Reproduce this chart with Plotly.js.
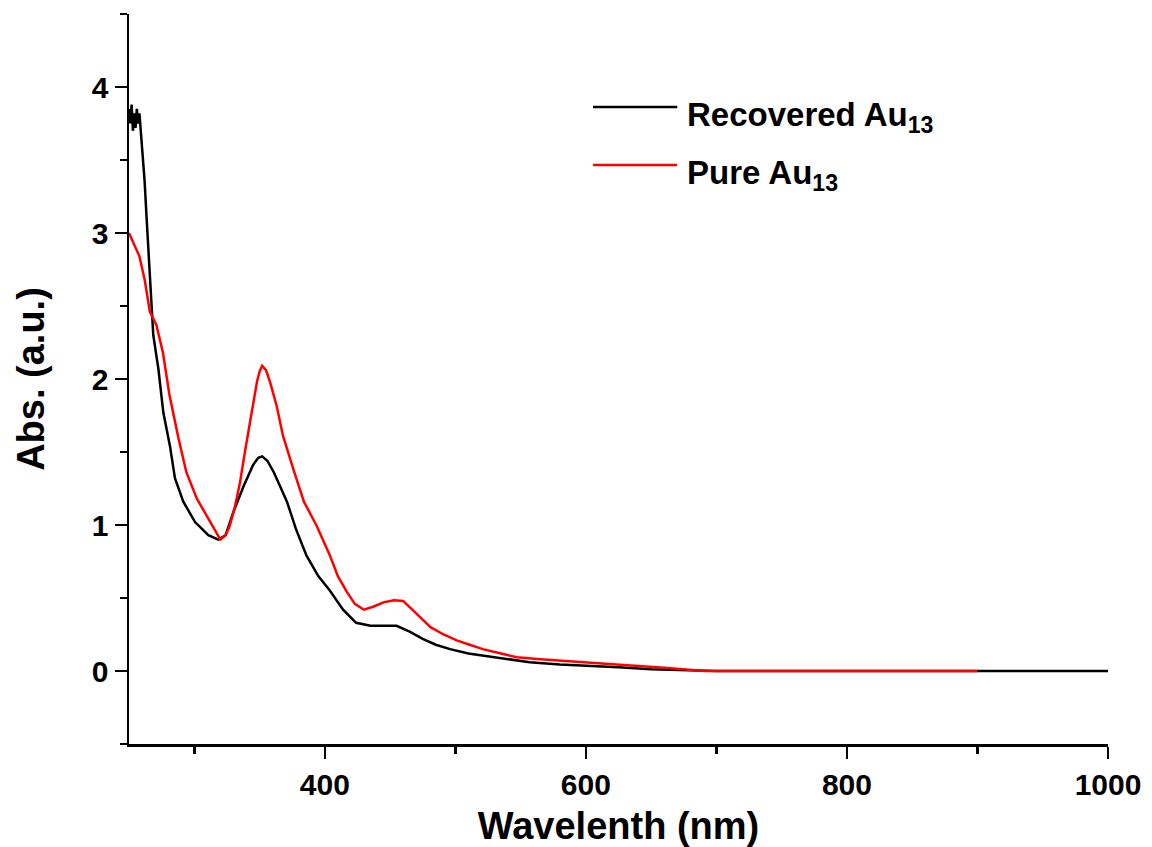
<!DOCTYPE html>
<html>
<head>
<meta charset="utf-8">
<script src="https://cdn.plot.ly/plotly-3.0.1.min.js"></script>
<style>html,body{margin:0;padding:0;background:#fff;}#chart{width:1152px;height:847px;}</style>
</head>
<body>
<div id="chart"></div>
<script>
// Recovered Au13 (black)
const wlRecovered = [250,251,252,253,254,255,256,257,258,259,260,262,263.5,265,267,268.6,272.5,276.3,281.4,285.2,291.6,300.6,310.8,318.4,324,330,338,345,349,352,356,361,366,371,378,386,395,404,414,424,435,445,455,465,475,485,496,510,522,540,557,580,603,625,650,670,690,700,800,900,1000];
const absRecovered = [3.85,3.75,3.88,3.70,3.82,3.72,3.85,3.75,3.82,3.70,3.60,3.35,3.10,2.87,2.53,2.30,2.07,1.77,1.54,1.32,1.16,1.02,0.93,0.90,0.93,1.09,1.27,1.41,1.46,1.47,1.44,1.36,1.26,1.16,0.97,0.79,0.65,0.55,0.42,0.33,0.31,0.31,0.31,0.27,0.22,0.18,0.15,0.12,0.105,0.08,0.06,0.045,0.036,0.025,0.012,0.006,0.002,0,0,0,0];

// Pure Au13 (red)
const wlPure = [250,254.6,258,262,266,271,276,281,288,294,302,311,316,320,324,327,331,335,339,343,348,350,352,355,358,363,368,376,384,394,404,410,417,423,430,437,445,453,460,467,474,481,491,501,511,521,535,547,565,583,600,620,640,660,680,691,800,900];
const absPure = [3.00,2.91,2.84,2.68,2.46,2.37,2.18,1.89,1.59,1.36,1.18,1.04,0.96,0.90,0.93,0.99,1.12,1.29,1.51,1.73,1.98,2.05,2.09,2.06,1.98,1.82,1.61,1.38,1.16,0.99,0.79,0.65,0.54,0.46,0.42,0.44,0.47,0.485,0.48,0.42,0.36,0.30,0.25,0.21,0.18,0.15,0.12,0.094,0.08,0.068,0.058,0.045,0.035,0.022,0.010,0,0,0];

const seriesNames = ["Recovered Au<sub>13</sub>", "Pure Au<sub>13</sub>"];
const seriesColors = ['#000000', '#ff0000'];
const xTickVals = [400, 600, 800, 1000];
const yTickVals = [0, 1, 2, 3, 4];

const FONT = "Arial, 'Liberation Sans', sans-serif";

const traces = [
  {x: wlRecovered, y: absRecovered, type: 'scatter', mode: 'lines', name: seriesNames[0],
   line: {color: seriesColors[0], width: 2.5}},
  {x: wlPure, y: absPure, type: 'scatter', mode: 'lines', name: seriesNames[1],
   line: {color: seriesColors[1], width: 2.5}}
];

const axisCommon = {
  showgrid: false, zeroline: false, showline: true, linecolor: '#000', linewidth: 2.5,
  ticks: 'outside', ticklen: 12, tickwidth: 2.5, tickcolor: '#000',
  tickfont: {family: FONT, size: 30, color: '#000', weight: 'bold'},
  mirror: false
};

// Legend drawn in paper coordinates (long line samples as in the reference)
const legendRowsY = [0.8725, 0.793];   // paper y of each legend row
const legendLineX = [0.474, 0.560];
const legendTextX = 0.568;
const shapes = [];
const annotations = [];
seriesNames.forEach((nm, i) => {
  shapes.push({type: 'line', xref: 'paper', yref: 'paper',
    x0: legendLineX[0], x1: legendLineX[1], y0: legendRowsY[i], y1: legendRowsY[i],
    line: {color: seriesColors[i], width: 2.5}});
  annotations.push({xref: 'paper', yref: 'paper', x: legendTextX, y: legendRowsY[i] - 0.013,
    xanchor: 'left', yanchor: 'middle', showarrow: false, text: nm,
    font: {family: FONT, size: 33, color: '#000', weight: 'bold'}});
});

const layout = {
  width: 1152, height: 847,
  paper_bgcolor: '#fff', plot_bgcolor: '#fff',
  margin: {l: 129, r: 44, t: 14, b: 103},
  showlegend: false,
  shapes: shapes,
  annotations: annotations,
  xaxis: Object.assign({}, axisCommon, {
    range: [250, 1000], tickvals: xTickVals, ticktext: xTickVals.map(String),
    minor: {tickvals: [300, 500, 700, 900], ticks: 'outside', ticklen: 7, tickwidth: 2.5, tickcolor: '#000'},
    title: {text: 'Wavelenth (nm)', font: {family: FONT, size: 38, color: '#000', weight: 'bold'}, standoff: 14}
  }),
  yaxis: Object.assign({}, axisCommon, {
    range: [-0.5, 4.5], tickvals: yTickVals, ticktext: yTickVals.map(String),
    minor: {tickvals: [-0.5, 0.5, 1.5, 2.5, 3.5, 4.5], ticks: 'outside', ticklen: 7, tickwidth: 2.5, tickcolor: '#000'},
    title: {text: 'Abs. (a.u.)', font: {family: FONT, size: 38, color: '#000', weight: 'bold'}, standoff: 36}
  })
};

Plotly.newPlot('chart', traces, layout, {displayModeBar: false, staticPlot: true});
</script>
</body>
</html>
